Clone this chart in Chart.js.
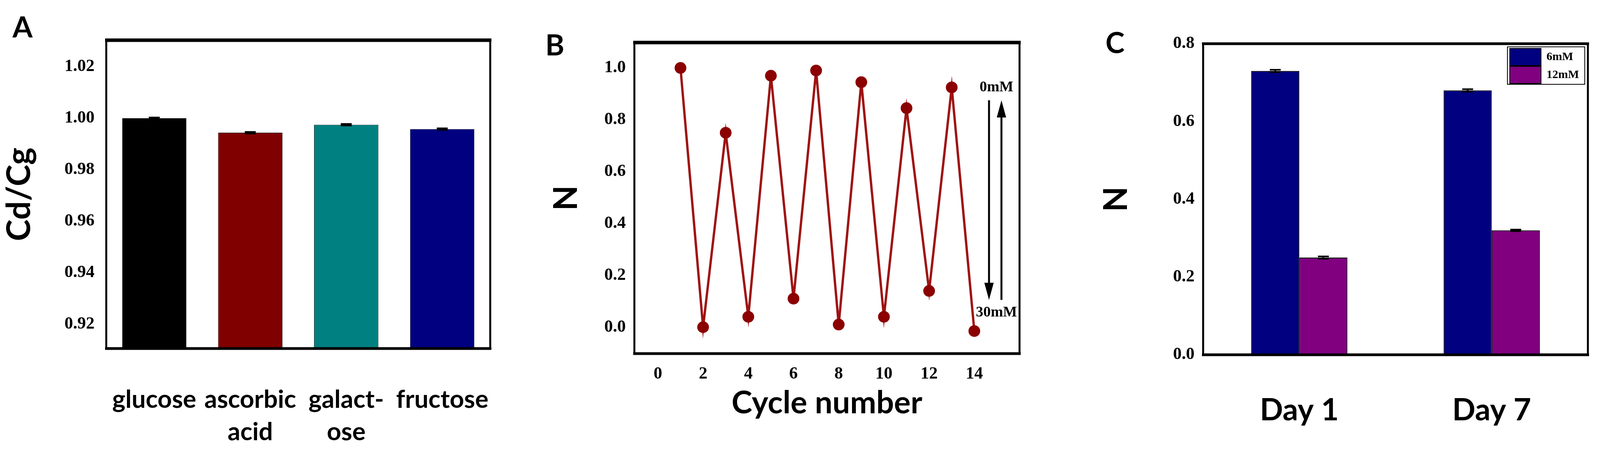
<!DOCTYPE html>
<html lang="en">
<head>
<meta charset="UTF-8">
<title>Figure</title>
<script src="https://cdn.jsdelivr.net/npm/chart.js@4/dist/chart.umd.min.js"></script>
<style>
  body { margin:0; background:#fff; width:4100px; height:1153px; position:relative; overflow:hidden; }
  canvas { position:absolute; top:0; }
</style>
</head>
<body>
<canvas id="chartA" width="1380" height="1153" style="left:0px;width:1380px;height:1153px"></canvas>
<canvas id="chartB" width="1340" height="1153" style="left:1380px;width:1340px;height:1153px"></canvas>
<canvas id="chartC" width="1380" height="1153" style="left:2720px;width:1380px;height:1153px"></canvas>
<script>
// ---- data ----
var categoriesA = [['glucose'], ['ascorbic', 'acid'], ['galact-', 'ose'], ['fructose']];
var valuesA = [1.000, 0.9944, 0.9975, 0.9958];
var errorsA = [0.0003, 0.0003, 0.0003, 0.0003];
var colorsA = ['#000000', '#800000', '#008080', '#000080'];

var cycles = [1, 2, 3, 4, 5, 6, 7, 8, 9, 10, 11, 12, 13, 14];
var valuesB = [1.0, 0.0, 0.75, 0.04, 0.97, 0.11, 0.99, 0.01, 0.945, 0.04, 0.845, 0.14, 0.925, -0.015];

var daysC = ['Day 1', 'Day 7'];
var values6mM = [0.73, 0.68];
var values12mM = [0.25, 0.32];
var errors6mM = [0.003, 0.003];
var errors12mM = [0.003, 0.002];

var H = 1153;
var serif = '"Liberation Serif", "DejaVu Serif", serif';
var sans = 'Lato, "Open Sans", sans-serif';

// place the chart area at fixed pixel box inside each canvas
function fitY(w) { return function (s) { s.width = w; }; }
function fitX(h) { return function (s) { s.height = h; }; }

function frame(lw) {
  return {
    id: 'frame',
    afterDraw: function (chart) {
      var a = chart.chartArea, c = chart.ctx;
      c.save();
      c.strokeStyle = '#000';
      c.lineWidth = 5;
      c.strokeRect(a.left, a.top, a.right - a.left, a.bottom - a.top);
      c.lineWidth = lw;
      c.beginPath(); c.moveTo(a.left - 3, a.top); c.lineTo(a.right + 3, a.top); c.stroke();
      c.lineWidth = 7;
      c.beginPath(); c.moveTo(a.left - 3, a.bottom); c.lineTo(a.right + 3, a.bottom); c.stroke();
      c.restore();
    }
  };
}

function letter(txt, x, y) {
  return {
    id: 'letter',
    afterDraw: function (chart) {
      var c = chart.ctx;
      c.save();
      c.font = 'bold 74px ' + sans;
      c.fillStyle = '#000';
      c.textAlign = 'left'; c.textBaseline = 'middle';
      c.fillText(txt, x, y);
      c.restore();
    }
  };
}

function errorBars(chart, dsIndex, errs) {
  var meta = chart.getDatasetMeta(dsIndex), y = chart.scales.y, c = chart.ctx;
  var vals = chart.data.datasets[dsIndex].data;
  c.save();
  c.strokeStyle = '#000'; c.lineWidth = 4;
  meta.data.forEach(function (bar, i) {
    var top = y.getPixelForValue(vals[i] + errs[i]);
    var bot = y.getPixelForValue(vals[i] - errs[i]);
    c.beginPath();
    c.moveTo(bar.x, top); c.lineTo(bar.x, bot);
    c.moveTo(bar.x - 14, top); c.lineTo(bar.x + 14, top);
    c.moveTo(bar.x - 14, bot); c.lineTo(bar.x + 14, bot);
    c.stroke();
  });
  c.restore();
}

// ---- panel A ----
new Chart(document.getElementById('chartA'), {
  type: 'bar',
  data: {
    labels: categoriesA,
    datasets: [{ data: valuesA, backgroundColor: colorsA, borderColor: '#000', borderWidth: 1,
      barPercentage: 0.67, categoryPercentage: 1 }]
  },
  options: {
    responsive: false, animation: false, devicePixelRatio: 1,
    layout: { padding: { top: 103, right: 1380 - 1255, left: 0, bottom: 0 } },
    plugins: { legend: { display: false }, tooltip: { enabled: false } },
    scales: {
      x: {
        afterFit: fitX(H - 893),
        grid: { display: false }, border: { display: false },
        ticks: { padding: 82, color: '#000', font: { family: sans, weight: 'bold', size: 64, lineHeight: 1.3 } }
      },
      y: {
        min: 0.9106, max: 1.0303,
        afterFit: fitY(272),
        afterBuildTicks: function (s) { s.ticks = [0.92, 0.94, 0.96, 0.98, 1.00, 1.02].map(function (v) { return { value: v }; }); },
        grid: { display: false }, border: { display: false },
        ticks: { padding: 22, color: '#000', callback: function (v) { return v.toFixed(2); },
          font: { family: serif, weight: 'bold', size: 44 } },
        title: { display: true, text: 'Cd/Cg', color: '#000', padding: { top: 0, bottom: 40 },
          font: { family: sans, weight: 'bold', size: 84 } }
      }
    }
  },
  plugins: [frame(9), letter('A', 32, 72), { id: 'errA', afterDatasetsDraw: function (ch) { errorBars(ch, 0, errorsA); } }]
});

// ---- panel B ----
new Chart(document.getElementById('chartB'), {
  type: 'line',
  data: {
    datasets: [{
      data: cycles.map(function (c, i) { return { x: c, y: valuesB[i] }; }),
      borderColor: '#9e1212', backgroundColor: '#8b0000', borderWidth: 6,
      pointRadius: 12, pointBackgroundColor: '#8b0000', pointBorderColor: '#8b0000', tension: 0
    }]
  },
  options: {
    responsive: false, animation: false, devicePixelRatio: 1,
    layout: { padding: { top: 109, right: 2720 - 2610, left: 0, bottom: 0 } },
    plugins: { legend: { display: false }, tooltip: { enabled: false } },
    scales: {
      x: {
        type: 'linear', min: -1.04, max: 16.0,
        afterFit: fitX(H - 906),
        afterBuildTicks: function (s) { s.ticks = [0, 2, 4, 6, 8, 10, 12, 14].map(function (v) { return { value: v }; }); },
        grid: { display: false }, border: { display: false },
        ticks: { padding: 18, color: '#000', font: { family: serif, weight: 'bold', size: 44 } },
        title: { display: true, text: 'Cycle number', color: '#000', padding: { top: 0, bottom: 72 },
          font: { family: sans, weight: 'bold', size: 80 } }
      },
      y: {
        min: -0.102, max: 1.098,
        afterFit: fitY(1624 - 1380),
        afterBuildTicks: function (s) { s.ticks = [0, 0.2, 0.4, 0.6, 0.8, 1.0].map(function (v) { return { value: v }; }); },
        grid: { display: false }, border: { display: false },
        ticks: { padding: 14, color: '#000', callback: function (v) { return v.toFixed(1); },
          font: { family: serif, weight: 'bold', size: 44 } },
        title: { display: true, text: 'N', color: '#000', padding: { top: 20, bottom: 0 },
          font: { family: sans, weight: 'bold', size: 84 } }
      }
    }
  },
  plugins: [frame(9), letter('B', 16, 118), {
    id: 'arrows',
    afterDraw: function (ch) {
      var x = ch.scales.x, y = ch.scales.y, c = ch.ctx;
      function arrow(xv, y0, y1) {
        var px = x.getPixelForValue(xv), a = y.getPixelForValue(y0), b = y.getPixelForValue(y1);
        var dir = b > a ? 1 : -1;
        c.beginPath(); c.moveTo(px, a); c.lineTo(px, b - dir * 30); c.stroke();
        c.beginPath(); c.moveTo(px, b); c.lineTo(px - 12, b - dir * 44); c.lineTo(px + 12, b - dir * 44); c.closePath(); c.fill();
      }
      c.save();
      c.strokeStyle = '#000'; c.fillStyle = '#000'; c.lineWidth = 5;
      arrow(14.65, 0.875, 0.105);
      arrow(15.2, 0.105, 0.875);
      c.font = 'bold 38px ' + serif; c.textAlign = 'center'; c.textBaseline = 'middle';
      c.fillText('0mM', x.getPixelForValue(14.98), y.getPixelForValue(0.925));
      c.fillText('30mM', x.getPixelForValue(14.98), y.getPixelForValue(0.056));
      c.restore();
    }
  }]
});

// ---- panel C ----
new Chart(document.getElementById('chartC'), {
  type: 'bar',
  data: {
    labels: daysC,
    datasets: [
      { label: '6mM', data: values6mM, backgroundColor: '#000080', borderColor: '#000', borderWidth: 2,
        barPercentage: 1, categoryPercentage: 0.5 },
      { label: '12mM', data: values12mM, backgroundColor: '#800080', borderColor: '#000', borderWidth: 2,
        barPercentage: 1, categoryPercentage: 0.5 }
    ]
  },
  options: {
    responsive: false, animation: false, devicePixelRatio: 1,
    layout: { padding: { top: 112, right: 4100 - 4065, left: 0, bottom: 0 } },
    plugins: { legend: { display: false }, tooltip: { enabled: false } },
    scales: {
      x: {
        afterFit: fitX(H - 909),
        grid: { display: false }, border: { display: false },
        ticks: { padding: 88, color: '#000', font: { family: sans, weight: 'bold', size: 78 } }
      },
      y: {
        min: 0, max: 0.8,
        afterFit: fitY(3080 - 2720),
        ticks: { stepSize: 0.2, padding: 14, color: '#000', callback: function (v) { return v.toFixed(1); },
          font: { family: serif, weight: 'bold', size: 44 } },
        grid: { display: false }, border: { display: false },
        title: { display: true, text: 'N', color: '#000', padding: { top: 88, bottom: 0 },
          font: { family: sans, weight: 'bold', size: 84 } }
      }
    }
  },
  plugins: [frame(7), letter('C', 110, 112), {
    id: 'extrasC',
    afterDatasetsDraw: function (ch) {
      errorBars(ch, 0, errors6mM);
      errorBars(ch, 1, errors12mM);
    },
    afterDraw: function (ch) {
      var a = ch.chartArea, c = ch.ctx;
      var lx = a.right - 206, ly = a.top + 8;
      c.save();
      c.fillStyle = '#fff'; c.strokeStyle = '#000'; c.lineWidth = 2;
      c.fillRect(lx, ly, 198, 96); c.strokeRect(lx, ly, 198, 96);
      c.font = 'bold 30px ' + serif; c.textBaseline = 'middle'; c.textAlign = 'left';
      ch.data.datasets.forEach(function (d, i) {
        var sy = ly + 4 + i * 46;
        c.fillStyle = d.backgroundColor;
        c.fillRect(lx + 6, sy, 80, 44);
        c.strokeRect(lx + 6, sy, 80, 44);
        c.fillStyle = '#000';
        c.fillText(d.label, lx + 100, sy + 22);
      });
      c.restore();
    }
  }]
});
</script>
</body>
</html>
